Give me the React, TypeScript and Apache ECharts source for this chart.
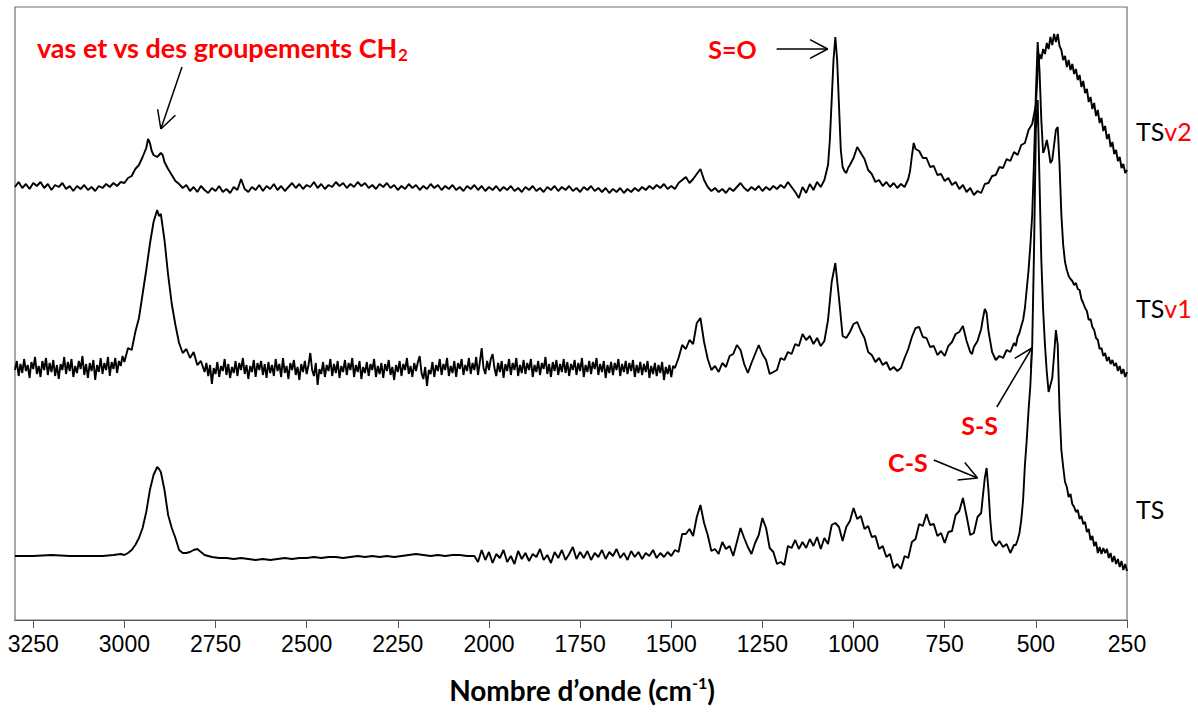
import React, { useEffect, useRef } from "react";
import * as echarts from "echarts";

// ---------- DATA (wavenumber cm-1, intensity a.u. with vertical offsets) ----------
const tickValues: number[] = [250, 500, 750, 1000, 1250, 1500, 1750, 2000, 2250, 2500, 2750, 3000, 3250];

const seriesNames: string[] = ["TS", "TSv1", "TSv2"];

const ts: [number, number][] = [
[3300,64],[3250,64],[3200,65],[3150,64],[3100,64],[3060,64],[3030,65],[3010,66],[3000,65],[2990,67],[2980,70],[2970,75],[2960,82],[2950,92],[2940,108],[2930,130],[2920,145],[2910,153],[2905,151],[2900,148],[2890,130],[2880,105],[2870,92],[2860,82],[2850,70],[2840,67],[2830,67],[2820,68],[2810,70],[2800,71],[2790,68],[2780,65],[2760,63],[2740,62],[2720,62],[2700,61],[2680,62],[2660,61],[2640,60],[2620,61],[2600,60],[2580,61],[2560,62],[2540,61],[2520,62],[2500,62],[2480,63],[2460,62],[2440,63],[2420,63],[2400,62],[2380,63],[2360,64],[2340,63],[2320,64],[2300,63],[2280,64],[2260,63],[2240,64],[2220,65],[2200,66],[2180,65],[2160,64],[2140,65],[2120,64],[2100,65],[2080,65],[2060,64],[2040,64],
[2030,58],[2020,70],[2010,60],[2000,68],[1990,57],[1980,66],[1970,62],[1960,70],[1950,58],[1940,64],[1930,56],[1920,69],[1910,61],[1900,67],[1890,59],[1880,66],[1870,63],[1860,71],[1850,60],[1840,65],[1830,57],[1820,68],[1810,62],[1800,70],[1790,60],[1780,66],[1770,73],[1760,61],[1750,68],[1740,62],[1730,69],[1720,60],[1710,67],[1700,63],[1690,70],[1680,61],[1670,68],[1660,64],[1650,71],[1640,62],[1630,67],[1620,60],[1610,69],[1600,63],[1590,68],[1580,61],[1570,67],[1560,64],[1550,70],[1540,62],[1530,67],[1520,63],[1510,68],[1500,64],
[1490,70],[1480,68],[1470,86],[1460,86],[1450,91],[1440,84],[1430,103],[1420,115],[1410,97],[1400,85],[1390,69],[1380,71],[1370,66],[1360,78],[1350,71],[1340,74],[1330,64],[1320,78],[1310,92],[1300,82],[1290,73],[1280,66],[1270,77],[1260,85],[1250,102],[1240,92],[1230,72],[1220,68],[1210,56],[1200,58],[1190,55],[1180,74],[1170,72],[1160,80],[1150,71],[1140,78],[1130,72],[1120,81],[1110,74],[1100,83],[1090,71],[1080,82],[1070,76],[1060,95],[1050,97],[1040,93],[1030,79],[1020,93],[1010,99],[1000,112],[990,101],[980,104],[970,91],[960,94],[950,83],[940,84],[930,71],[920,74],[910,63],[900,66],[890,52],[880,56],[870,51],[860,64],[850,62],[840,78],[830,81],[820,96],[810,94],[800,106],[790,95],[780,96],[770,84],[760,87],[750,77],[740,88],[730,89],[720,105],[710,109],[700,122],[690,104],[680,85],[670,87],[660,103],[650,107],[645,125],[640,142],[635,152],[630,130],[625,100],[620,80],[610,74],[600,79],[590,73],[580,76],[570,67],[560,75],
[555,75],[550,80],[545,87],[540,100],[535,120],[530,155],[525,180],[520,210],[515,235],[510,275],[505,370],[500,490],[495,520],[490,440],[485,360],[480,310],[475,275],[470,248],[465,228],[460,235],[455,242],[450,265],[445,290],[440,275],[435,210],[430,170],[425,153],[420,138],[415,133],[410,123],[405,126],[400,116],[395,113],[390,108],[385,110],[380,101],[375,104],[370,96],[365,98],[360,88],[355,91],[350,80],[345,84],[340,74],[335,78],[330,67],[325,73],[320,66],[315,72],[310,67],[305,71],[300,62],[295,67],[290,58],[285,64],[280,56],[275,61],[270,53],[265,59],[260,50],[255,56],[250,49]
];

const tsv1: [number, number][] = [
[3300,250],[3295,259],[3290,244],[3285,256],[3280,247],[3275,261],[3270,249],[3265,255],[3260,242],[3255,258],[3250,251],[3245,263],[3240,246],[3235,254],[3230,243],[3225,259],[3220,250],[3215,262],[3210,245],[3205,257],[3200,248],[3195,260],[3190,244],[3185,255],[3180,241],[3175,256],[3170,250],[3165,263],[3160,246],[3155,258],[3150,249],[3145,261],[3140,243],[3135,254],[3130,247],[3125,259],[3120,251],[3115,264],[3110,245],[3105,256],[3100,242],[3095,257],[3090,249],[3085,260],[3080,240],[3075,255],[3070,248],[3065,262],[3060,246],[3055,257],[3050,250],[3045,263],[3040,244],[3035,258],[3030,251],[3025,262],[3020,247],[3015,259],[3010,254],[3005,264],
[3000,258],[2990,272],[2980,270],[2970,288],[2960,302],[2950,326],[2940,350],[2930,376],[2920,398],[2910,410],[2905,404],[2900,406],[2890,380],[2880,345],[2870,316],[2860,295],[2850,277],[2840,267],[2830,271],[2820,262],[2810,268],[2800,255],[2790,259],
[2780,248],[2775,257],[2770,244],[2765,255],[2760,236],[2755,252],[2750,246],[2745,258],[2740,243],[2735,254],[2730,249],[2725,261],[2720,245],[2715,256],[2710,242],[2705,253],[2700,247],[2695,259],[2690,244],[2685,257],
[2680,250],[2675,262],[2670,246],[2665,255],[2660,241],[2655,254],[2650,248],[2645,260],[2640,243],[2635,257],[2630,250],[2625,259],[2620,245],[2615,256],[2610,242],[2605,258],[2600,247],[2595,255],[2590,244],[2585,261],
[2580,249],[2575,256],[2570,243],[2565,262],[2560,247],[2555,254],[2550,241],[2545,257],[2540,250],[2535,260],[2530,245],[2525,253],[2520,240],[2515,256],[2510,248],[2505,259],[2500,246],[2495,255],[2490,267],[2485,250],
[2480,244],[2475,257],[2470,235],[2465,251],[2460,246],[2455,258],[2450,243],[2445,255],[2440,249],[2435,261],[2430,244],[2425,256],[2420,247],[2415,259],[2410,242],[2405,254],[2400,248],[2395,260],[2390,245],[2385,257],
[2380,250],[2375,262],[2370,243],[2365,255],[2360,248],[2355,259],[2350,241],[2345,253],[2340,247],[2335,258],[2330,244],[2325,256],[2320,250],[2315,261],[2310,243],[2305,254],[2300,246],[2295,257],[2290,242],[2285,256],
[2280,249],[2275,260],[2270,245],[2265,253],[2260,240],[2255,255],[2250,248],[2245,259],[2240,244],[2235,256],[2230,250],[2225,262],[2220,246],[2215,254],[2210,243],[2205,257],[2200,249],[2195,258],[2190,264],[2185,247],
[2180,241],[2175,253],[2170,234],[2165,250],[2160,246],[2155,258],[2150,243],[2145,255],[2140,249],[2135,261],[2130,245],[2125,256],[2120,250],[2115,262],[2110,244],[2105,254],[2100,247],[2095,259],[2090,243],[2085,257],
[2080,251],[2075,261],[2070,245],[2065,255],[2060,249],[2055,262],[2050,246],[2045,257],[2040,250],[2035,263],[2030,245],[2025,258],[2020,272],[2015,252],[2010,246],[2005,259],[2000,250],[1995,261],[1990,266],[1985,252],
[1980,244],[1975,257],[1970,248],[1965,259],[1960,242],[1955,256],[1950,249],[1945,261],[1940,245],[1935,257],[1930,250],[1925,262],[1920,244],[1915,255],[1910,247],[1905,260],[1900,246],[1895,257],[1890,250],[1885,261],
[1880,243],[1875,255],[1870,248],[1865,259],[1860,245],[1855,257],[1850,251],[1845,263],[1840,246],[1835,256],[1830,243],[1825,258],[1820,249],[1815,260],[1810,245],[1805,256],[1800,248],[1795,261],[1790,247],[1785,258],
[1780,244],[1775,256],[1770,250],[1765,260],[1760,245],[1755,257],[1750,249],[1745,262],[1740,243],[1735,255],[1730,248],[1725,259],[1720,246],[1715,258],[1710,251],[1705,262],[1700,245],[1695,256],[1690,248],[1685,259],
[1680,242],[1675,255],[1670,247],[1665,258],[1660,245],[1655,257],[1650,250],[1645,261],[1640,244],[1635,256],[1630,248],[1625,259],[1620,246],[1615,257],[1610,249],[1605,260],[1600,243],[1595,255],[1590,247],[1585,258],
[1580,245],[1575,256],[1570,248],[1565,259],[1560,242],[1555,254],[1550,246],[1545,257],[1540,244],[1535,255],[1530,247],[1525,258],[1520,240],[1515,253],[1510,246],[1505,255],[1500,243],[1495,254],
[1490,252],[1480,262],[1470,275],[1460,271],[1450,280],[1440,276],[1430,297],[1420,302],[1410,278],[1400,261],[1390,250],[1380,254],[1370,248],[1360,257],[1350,253],[1340,264],[1330,266],[1320,275],[1310,270],[1300,256],[1290,247],[1280,257],[1270,266],[1260,275],[1250,266],[1240,260],[1230,246],[1220,248],[1210,250],[1200,262],[1190,260],[1180,268],[1170,266],[1160,276],[1150,274],[1140,286],[1130,280],[1120,284],[1110,276],[1100,282],[1090,274],[1080,279],[1070,300],[1060,338],[1050,357],[1040,322],[1030,284],[1020,282],[1010,288],[1000,296],[990,298],[980,289],[970,282],[960,268],[950,265],[940,258],[930,262],[920,255],[910,258],[900,250],[890,253],[880,249],[870,252],[860,262],[850,271],[840,283],[830,292],[820,293],[810,283],[800,282],[790,273],[780,274],[770,265],[760,269],[750,264],[740,274],[730,278],[720,286],[710,288],[700,294],[690,279],[680,268],[675,266],[670,273],[660,279],[650,291],[645,302],[640,311],[635,307],[630,289],[620,268],[610,260],[600,264],[590,262],[580,270],[570,268],[560,277],
[555,274],[550,283],[545,287],[540,294],[535,300],[530,312],[525,331],[520,350],[515,375],[510,405],[505,460],[500,525],[495,578],[490,550],[485,500],[480,467],[475,472],[470,480],[465,470],[460,457],[455,460],[450,475],[445,490],[440,493],[435,455],[430,405],[425,375],[420,358],[415,350],[410,344],[405,341],[400,339],[395,335],[390,337],[385,331],[380,330],[375,321],[370,317],[365,312],[360,309],[355,300],[350,301],[345,293],[340,290],[335,282],[330,280],[325,271],[320,272],[315,264],[310,267],[305,259],[300,263],[295,256],[290,260],[285,254],[280,257],[275,249],[270,254],[265,246],[260,251],[255,243],[250,248]
];

const tsv2: [number, number][] = [
[3300,433],[3290,438],[3280,432],[3270,436],[3260,431],[3250,437],[3240,434],[3230,438],[3220,432],[3210,436],[3200,430],[3190,435],[3180,433],[3170,437],[3160,431],[3150,434],[3140,429],[3130,434],[3120,431],[3110,435],[3100,430],[3090,433],[3080,429],[3070,434],[3060,432],[3050,436],[3040,433],[3030,437],[3020,434],[3010,438],
[3000,437],[2990,442],[2980,444],[2970,451],[2960,455],[2950,463],[2940,472],[2935,481],[2930,477],[2925,469],[2920,465],[2910,463],[2900,467],[2895,465],[2890,458],[2880,451],[2870,445],[2860,439],[2850,436],[2840,432],
[2830,435],[2820,429],[2810,433],[2800,428],[2790,434],[2780,430],[2770,427],[2760,432],[2750,429],[2740,434],[2730,428],[2720,431],[2710,427],[2700,433],[2690,430],[2680,441],[2670,431],[2660,428],[2650,433],[2640,430],[2630,435],[2620,429],[2610,434],[2600,431],[2590,436],[2580,430],[2570,434],[2560,429],[2550,433],[2540,437],[2530,432],[2520,436],[2510,431],[2500,435],[2490,433],[2480,438],[2470,432],[2460,436],[2450,431],[2440,435],[2430,433],[2420,438],[2410,434],[2400,437],[2390,432],[2380,436],[2370,433],[2360,438],[2350,434],[2340,437],[2330,432],[2320,435],[2310,431],[2300,436],[2290,433],[2280,437],[2270,432],[2260,435],[2250,430],[2240,434],[2230,431],[2220,436],[2210,432],[2200,435],[2190,430],[2180,434],[2170,431],[2160,436],[2150,432],[2140,435],[2130,430],[2120,434],[2110,431],[2100,435],[2090,430],[2080,433],[2070,429],[2060,434],[2050,431],[2040,435],[2030,430],[2020,434],[2010,429],[2000,433],[1990,430],[1980,434],[1970,429],[1960,433],[1950,430],[1940,434],[1930,429],[1920,432],[1910,428],[1900,433],[1890,430],[1880,434],[1870,429],[1860,432],[1850,428],[1840,433],[1830,430],[1820,434],[1810,429],[1800,433],[1790,430],[1780,434],[1770,429],[1760,432],[1750,428],[1740,433],[1730,430],[1720,434],[1710,429],[1700,432],[1690,428],[1680,432],[1670,427],[1660,431],[1650,428],[1640,432],[1630,427],[1620,431],[1610,428],[1600,432],[1590,429],[1580,433],[1570,430],[1560,434],[1550,431],[1540,435],[1530,432],[1520,436],[1510,431],
[1500,434],[1490,431],[1480,437],[1470,440],[1460,443],[1450,437],[1440,441],[1430,446],[1420,451],[1410,440],[1400,433],[1390,429],[1380,432],[1370,428],[1360,431],[1350,427],[1340,432],[1330,429],[1320,433],[1310,437],[1300,432],[1290,429],[1280,433],[1270,430],[1260,434],[1250,429],[1240,433],[1230,430],[1220,434],[1210,431],[1200,435],[1190,432],[1180,438],[1170,433],[1160,428],[1150,422],[1140,433],[1130,427],[1120,436],[1110,430],[1100,438],[1090,433],[1080,440],[1070,455],[1065,480],[1060,520],[1055,560],[1050,583],[1045,560],[1040,515],[1035,470],[1030,453],[1025,449],[1020,447],[1015,452],[1010,455],[1000,462],[990,473],[980,467],[970,461],[960,450],[950,446],[940,438],[930,440],[920,434],[910,438],[900,433],[890,437],[880,432],[870,436],[860,433],[850,441],[845,449],[840,464],[835,477],[830,471],[820,469],[810,462],[800,462],[790,453],[780,454],[770,445],[760,446],[750,439],[740,442],[730,435],[720,438],[710,431],[700,435],[690,428],[680,432],[670,425],[660,429],[650,427],[640,436],[630,437],[620,444],[610,445],[600,453],[590,452],[580,461],[570,459],[560,468],[550,465],[540,475],[530,477],[520,490],[510,496],[500,515],[495,548],[490,566],[485,561],[480,571],[475,566],[470,577],[465,571],[460,583],[455,575],[450,586],[445,578],[440,586],[435,574],[430,570],[425,560],[420,564],[415,553],[410,560],[405,550],[400,556],[395,546],[390,551],[385,540],[380,545],[375,533],[370,539],[365,527],[360,531],[355,518],[350,523],[345,511],[340,517],[335,504],[330,510],[325,497],[320,502],[315,489],[310,494],[305,481],[300,486],[295,473],[290,478],[285,466],[280,470],[275,459],[270,463],[265,452],[260,456],[255,447],[250,450]
];

// annotations: label text, label anchor [cm-1, a.u.], arrow tail, arrow tip
const annotations = [
  { label: "S=O", at: [1332, 571], from: [1211, 571], to: [1071, 571] },
  { label: "S-S", at: [654, 195], from: [607, 213], to: [511, 272] },
  { label: "C-S", at: [851, 158], from: [780, 160], to: [660, 142] },
  { label: "CH2", at: [3240, 573], from: [2842, 553], to: [2900, 491] },
];

export default function App() {
  const ref = useRef<HTMLDivElement>(null);
  useEffect(() => {
    if (!ref.current) return;
    const chart = echarts.init(ref.current, null, { renderer: "svg" });
    const dataSets = [ts, tsv1, tsv2];
    const option: any = {
      animation: false,
      backgroundColor: "#fff",
      grid: { left: 15, right: 71, top: 7, bottom: 96, show: true, borderColor: "#6e6e6e", borderWidth: 1.2 },
      xAxis: {
        type: "value",
        inverse: true,
        min: 250,
        max: 3300,
        axisLine: { show: true, lineStyle: { color: "#595959", width: 1.2 } },
        axisTick: { show: true, customValues: tickValues, length: 8, inside: false, lineStyle: { color: "#595959", width: 1 } },
        axisLabel: {
          customValues: tickValues,
          formatter: (v: number) => String(v),
          margin: 12,
          color: "#000",
          fontFamily: "Liberation Sans",
          fontSize: 23,
        },
        splitLine: { show: false },
        name: "{t|Nombre d\u2019onde (cm}{s|-1}{t|)}",
        nameLocation: "middle",
        nameGap: 54,
        nameTextStyle: {
          padding: [0, 0, 0, 22],
          rich: {
            t: { fontFamily: "Lato", fontWeight: "bold", fontSize: 28, color: "#000", lineHeight: 32 },
            s: { fontFamily: "Lato", fontWeight: "bold", fontSize: 16, color: "#000", verticalAlign: "top", lineHeight: 16 },
          },
        },
      },
      yAxis: { type: "value", min: 0, max: 613, show: false },
      series: dataSets.map((d, i) => ({
        name: seriesNames[i],
        type: "line",
        data: d,
        showSymbol: false,
        symbol: "none",
        silent: true,
        lineStyle: { color: "#000", width: 1.9 },
        z: 3 - i,
      })),
    };
    chart.setOption(option);

    const px = (p: number[]) => chart.convertToPixel({ xAxisIndex: 0, yAxisIndex: 0 }, p) as number[];
    const graphics: any[] = [];
    const red = "#ff0000";
    const arrow = (a: number[], b: number[]) => {
      const p0 = px(a), p1 = px(b);
      const ang = Math.atan2(p0[1] - p1[1], p0[0] - p1[0]);
      const L = 20, da = (28 * Math.PI) / 180;
      graphics.push({ type: "line", shape: { x1: p0[0], y1: p0[1], x2: p1[0], y2: p1[1] }, style: { stroke: "#000", lineWidth: 1.5 } });
      [ang + da, ang - da].forEach((t) => {
        graphics.push({ type: "line", shape: { x1: p1[0], y1: p1[1], x2: p1[0] + L * Math.cos(t), y2: p1[1] + L * Math.sin(t) }, style: { stroke: "#000", lineWidth: 1.5 } });
      });
    };
    annotations.forEach((an) => {
      arrow(an.from, an.to);
      const p = px(an.at);
      if (an.label === "CH2") {
        graphics.push({
          type: "text", x: p[0], y: p[1],
          style: {
            text: "{a|vas et vs des groupements CH}{b|2}",
            textAlign: "left", textVerticalAlign: "middle",
            rich: {
              a: { fontFamily: "Lato", fontWeight: "bold", fontSize: 27, fill: red, lineHeight: 32 },
              b: { fontFamily: "Lato", fontWeight: "bold", fontSize: 17, fill: red, verticalAlign: "bottom", lineHeight: 18 },
            },
          },
        });
      } else {
        graphics.push({
          type: "text", x: p[0], y: p[1],
          style: { text: an.label, textAlign: "center", textVerticalAlign: "middle", fontFamily: "Lato", fontWeight: "bold", fontSize: 25, fill: red },
        });
      }
    });
    const seriesLabels = [
      { a: "TS", b: "v2", y: 131 },
      { a: "TS", b: "v1", y: 308 },
      { a: "TS", b: "", y: 509 },
    ];
    seriesLabels.forEach((s) => {
      graphics.push({
        type: "text", x: 1136, y: s.y,
        style: {
          text: s.b ? `{k|${s.a}}{r|${s.b}}` : `{k|${s.a}}`,
          textAlign: "left", textVerticalAlign: "middle",
          rich: {
            k: { fontFamily: "Lato", fontSize: 25, fill: "#000" },
            r: { fontFamily: "Lato", fontSize: 25, fill: red },
          },
        },
      });
    });
    chart.setOption({ graphic: graphics });
    return () => chart.dispose();
  }, []);
  return <div ref={ref} style={{ position: "absolute", left: 0, top: 0, width: 1198, height: 716 }} />;
}
